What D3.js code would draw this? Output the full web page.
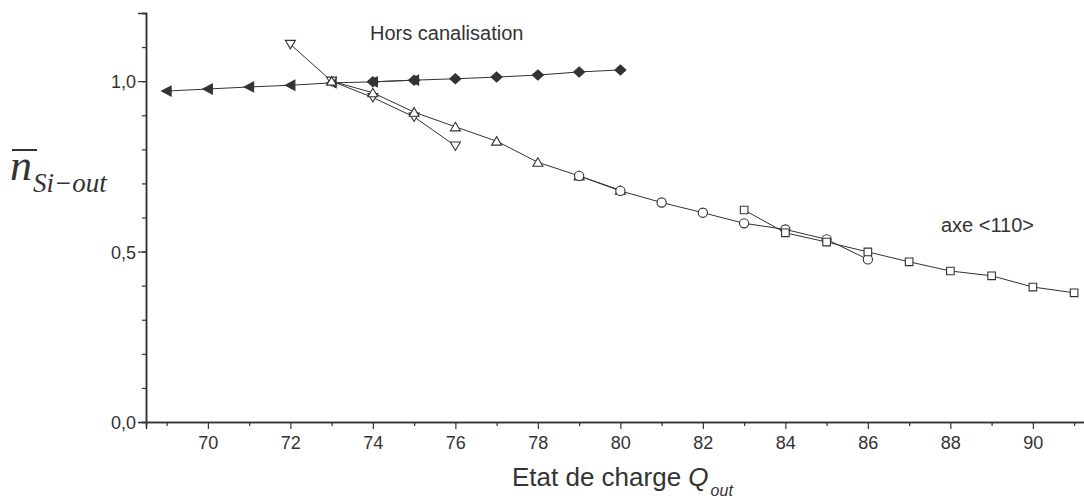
<!DOCTYPE html>
<html>
<head>
<meta charset="utf-8">
<script src="https://cdn.jsdelivr.net/npm/d3@7"></script>
<style>
  body { margin: 0; background: #fff; }
  text { font-family: "Liberation Sans", Arial, sans-serif; fill: #333; }
</style>
</head>
<body>
<div class="chart"></div>
<script>
// values
const triLeftQ = [69, 70, 71, 72, 73, 74, 75];
const triLeftN = [0.971, 0.977, 0.983, 0.988, 0.995, 0.998, 1.003];
const diamondQ = [74, 75, 76, 77, 78, 79, 80];
const diamondN = [0.998, 1.003, 1.007, 1.012, 1.018, 1.027, 1.033];
const triDownQ = [72, 73, 74, 75, 76];
const triDownN = [1.108, 1.0, 0.952, 0.895, 0.810];
const triUpQ = [73, 74, 75, 76, 77, 78, 79, 80];
const triUpN = [1.0, 0.966, 0.909, 0.866, 0.824, 0.762, 0.722, 0.680];
const circleQ = [79, 80, 81, 82, 83, 84, 85, 86];
const circleN = [0.722, 0.678, 0.644, 0.614, 0.583, 0.565, 0.536, 0.477];
const squareQ = [83, 84, 85, 86, 87, 88, 89, 90, 91];
const squareN = [0.622, 0.555, 0.528, 0.499, 0.470, 0.443, 0.429, 0.396, 0.379];

const yTicks = [0, 0.5, 1.0];
const yTickLabels = ["0,0", "0,5", "1,0"];
const xTicks = [70, 72, 74, 76, 78, 80, 82, 84, 86, 88, 90];

const w = 1084;
const h = 498;
const ink = "#333";

const svg = d3.select(".chart")
    .append("svg")
    .attr("width", w)
    .attr("height", h);

const x = d3.scaleLinear().domain([68.5, 91.5]).range([146, 146 + 23 * 41.25]);
const y = d3.scaleLinear().domain([0, 1.2]).range([422, 13]);

// y axis: minor ticks every 0.1, major at 0, 0.5, 1.0
const yAxisMinor = d3.axisLeft(y).tickValues(d3.range(0, 1.21, 0.1)).tickSize(4).tickFormat("");
const yAxisMajor = d3.axisLeft(y).tickValues(yTicks).tickSize(8)
    .tickFormat((d, i) => yTickLabels[i]);

svg.append("g").attr("transform", "translate(146,0)").call(yAxisMinor);
const gy = svg.append("g").attr("transform", "translate(146,0)").call(yAxisMajor);
gy.selectAll("text").style("font-size", "18px").attr("x", -10).attr("dy", "0.36em");

const xAxisMinor = d3.axisBottom(x).tickValues(d3.range(69, 92, 2)).tickSize(4).tickFormat("");
const xAxisMajor = d3.axisBottom(x).tickValues(xTicks).tickSize(7).tickFormat(d3.format("d"));
svg.append("g").attr("transform", "translate(0,422)").call(xAxisMinor);
const gx = svg.append("g").attr("transform", "translate(0,422)").call(xAxisMajor);
gx.selectAll("text").style("font-size", "18px").attr("y", 14).attr("dy", "0.71em");

svg.selectAll(".domain").attr("stroke", ink).attr("stroke-width", 1.5);
svg.selectAll(".tick line").attr("stroke", ink).attr("stroke-width", 1.2);
svg.selectAll(".tick text").style("fill", ink).attr("font-family", "Liberation Sans, Arial, sans-serif");

// lines
const line = d3.line().x(d => x(d[0])).y(d => y(d[1]));
const series = [
    { q: triLeftQ, n: triLeftN, m: "triLeft", fill: ink },
    { q: diamondQ, n: diamondN, m: "diamond", fill: ink },
    { q: triDownQ, n: triDownN, m: "triDown", fill: "#fff" },
    { q: triUpQ, n: triUpN, m: "triUp", fill: "#fff" },
    { q: circleQ, n: circleN, m: "circle", fill: "#fff" },
    { q: squareQ, n: squareN, m: "square", fill: "#fff" }
];

series.forEach(s => {
    const pts = s.q.map((q, i) => [q, s.n[i]]);
    svg.append("path")
        .attr("d", line(pts))
        .attr("fill", "none")
        .attr("stroke", ink)
        .attr("stroke-width", 1);
});

const shapes = {
    triLeft: "M-5,0L4.5,-5L4.5,5Z",
    diamond: "M0,-5L5.5,0L0,5L-5.5,0Z",
    triDown: "M-5,-4L5,-4L0,4.5Z",
    triUp: "M-5,4L5,4L0,-4.5Z",
    square: "M-3.8,-3.8H3.8V3.8H-3.8Z"
};

series.forEach(s => {
    const pts = s.q.map((q, i) => [q, s.n[i]]);
    const g = svg.append("g");
    if (s.m === "circle") {
        g.selectAll("circle").data(pts).enter().append("circle")
            .attr("cx", d => x(d[0])).attr("cy", d => y(d[1])).attr("r", 4.6)
            .attr("fill", s.fill).attr("stroke", ink).attr("stroke-width", 1.1);
    } else {
        g.selectAll("path").data(pts).enter().append("path")
            .attr("d", shapes[s.m])
            .attr("transform", d => "translate(" + x(d[0]) + "," + y(d[1]) + ")")
            .attr("fill", s.fill).attr("stroke", ink).attr("stroke-width", 1.1);
    }
});

// annotations
svg.append("text").attr("x", 370).attr("y", 40).style("font-size", "20px").text("Hors canalisation");
svg.append("text").attr("x", 941).attr("y", 232).style("font-size", "20px").text("axe <110>");

// x title
const xt = svg.append("text").attr("x", 512).attr("y", 486).style("font-size", "26px");
xt.append("tspan").text("Etat de charge ");
xt.append("tspan").attr("font-style", "italic").text("Q");
xt.append("tspan").style("font-size", "16px").attr("font-style", "italic").attr("dy", 10).attr("dx", 2).text("out");

// y title
const yt = svg.append("text").attr("x", 10).attr("y", 180)
    .style("font-family", "'Liberation Serif', 'Times New Roman', serif")
    .attr("font-style", "italic");
yt.append("tspan").style("font-size", "44px").text("n");
yt.append("tspan").style("font-size", "27px").attr("dy", 12).attr("dx", 1).text("Si\u2212out");
svg.append("line").attr("x1", 12).attr("x2", 37).attr("y1", 150).attr("y2", 150)
    .attr("stroke", ink).attr("stroke-width", 2);
</script>
</body>
</html>
